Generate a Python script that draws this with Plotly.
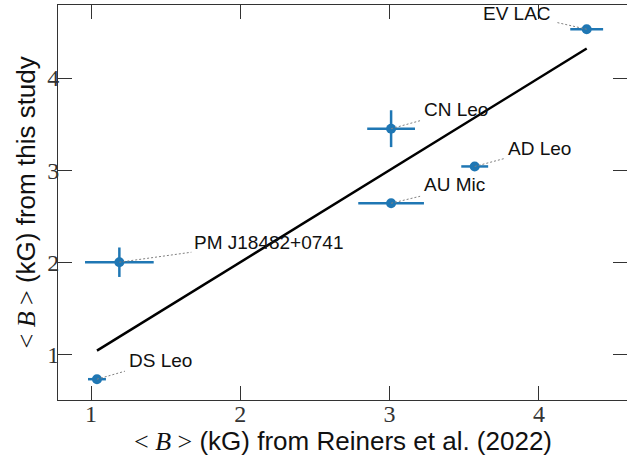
import plotly.graph_objects as go

# ---- data ----
names = ["DS Leo", "PM J18482+0741", "AU Mic", "CN Leo", "AD Leo", "EV LAC"]
b_reiners = [1.04, 1.19, 3.01, 3.01, 3.57, 4.32]
b_reiners_err = [0.06, 0.23, 0.22, 0.16, 0.09, 0.11]
b_study = [0.73, 2.00, 2.64, 3.45, 3.04, 4.53]
b_study_err = [0.02, 0.16, 0.02, 0.20, 0.03, 0.03]
x_ticks = [1, 2, 3, 4]
y_ticks = [1, 2, 3, 4]

# ---- label placement (pixel offsets from each point) ----
label_dx = [30, 73, 31, 31, 31, -34]
label_dy = [19, 20, 19, 19, 18, 16]
leader_dx = [28, 72, 29, 29, 30, -31]
leader_dy = [8, 10, 7, 8, 8, 7]

BLUE = "#1f77b4"
AX = "#333333"

fig = go.Figure()

# 1:1 line across data range
xmin, xmax = min(b_reiners), max(b_reiners)
fig.add_trace(go.Scatter(x=[xmin, xmax], y=[xmin, xmax], mode="lines",
                         line=dict(color="black", width=2.5), showlegend=False,
                         hoverinfo="skip"))

fig.add_trace(go.Scatter(
    x=b_reiners, y=b_study, mode="markers",
    marker=dict(color=BLUE, size=10),
    error_x=dict(type="data", array=b_reiners_err, color=BLUE, thickness=2.5, width=0),
    error_y=dict(type="data", array=b_study_err, color=BLUE, thickness=2.5, width=0),
    showlegend=False, text=names))

shapes = []
annotations = []
for i, n in enumerate(names):
    shapes.append(dict(type="line", xref="x", yref="y",
                       xsizemode="pixel", ysizemode="pixel",
                       xanchor=b_reiners[i], yanchor=b_study[i],
                       x0=0, y0=0, x1=leader_dx[i], y1=leader_dy[i],
                       line=dict(color="#808080", width=1, dash="2px,2px")))
    annotations.append(dict(x=b_reiners[i], y=b_study[i], xref="x", yref="y",
                            text=n, showarrow=False,
                            xanchor="left" if label_dx[i] > 0 else "right",
                            yanchor="middle",
                            xshift=label_dx[i], yshift=label_dy[i],
                            font=dict(family="Liberation Sans", size=19, color="#111111")))

math_b = '<span style="font-family:Liberation Serif">&lt; <i>B</i> &gt;</span>'
annotations.append(dict(xref="paper", yref="paper", x=0.5, y=0, xanchor="center",
                        yanchor="middle", yshift=-41, showarrow=False,
                        text=math_b + " (kG) from Reiners et al. (2022)",
                        font=dict(family="Liberation Sans", size=26, color="#111111")))
annotations.append(dict(xref="paper", yref="paper", x=0, y=0.5, xanchor="center",
                        yanchor="middle", xshift=-33, textangle=-90, showarrow=False,
                        text=math_b + " (kG) from this study",
                        font=dict(family="Liberation Sans", size=26, color="#111111")))

axis_common = dict(showgrid=False, zeroline=False, showline=True, linecolor=AX,
                   linewidth=1, mirror="ticks", ticks="inside", ticklen=14,
                   tickwidth=1, tickcolor=AX,
                   tickfont=dict(family="Liberation Serif", size=24, color="#333333"))

fig.update_layout(
    width=627, height=466,
    margin=dict(l=58, r=0, t=5, b=66),
    paper_bgcolor="white", plot_bgcolor="white",
    xaxis=dict(range=[0.779, 4.59], tickvals=x_ticks, ticktext=[str(v) for v in x_ticks],
               ticklabelstandoff=-8, **axis_common),
    yaxis=dict(range=[0.504, 4.793], tickvals=y_ticks, ticktext=[str(v) for v in y_ticks],
               ticklabelstandoff=-7, **axis_common),
    shapes=shapes, annotations=annotations,
)

fig.write_html("out.html")
